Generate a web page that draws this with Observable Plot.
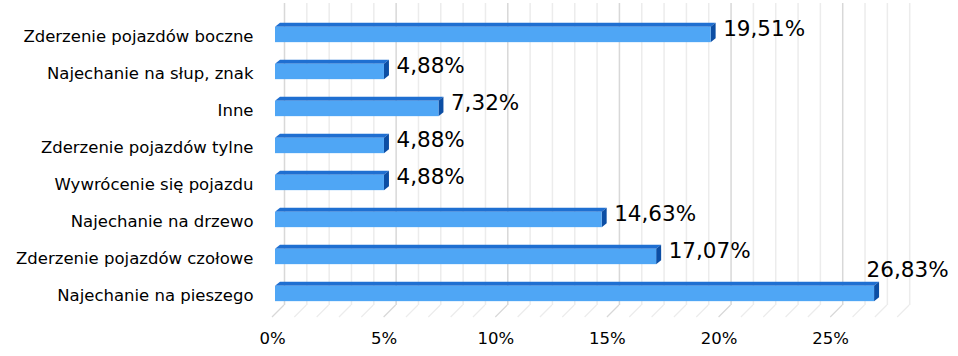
<!DOCTYPE html>
<html>
<head>
<meta charset="utf-8">
<script src="https://cdn.jsdelivr.net/npm/d3@7"></script>
<script src="https://cdn.jsdelivr.net/npm/@observablehq/plot@0.6"></script>
<style>
  html, body { margin: 0; padding: 0; background: #fff; }
  #chart svg { display: block; }
</style>
</head>
<body>
<div id="chart"></div>
<script>
// ---- data ----
const categories = [
  "Zderzenie pojazdów boczne",
  "Najechanie na słup, znak",
  "Inne",
  "Zderzenie pojazdów tylne",
  "Wywrócenie się pojazdu",
  "Najechanie na drzewo",
  "Zderzenie pojazdów czołowe",
  "Najechanie na pieszego"
];
const values = [19.51, 4.88, 7.32, 4.88, 4.88, 14.63, 17.07, 26.83];
const xTicks = [0, 5, 10, 15, 20, 25];
const gridValues = d3.range(0, 29); // 1% grid on the back wall
const xMax = 28;

const rows = categories.map((c, i) => ({cat: c, value: values[i]}));
const fmt = v => v.toFixed(2).replace(".", ",") + "%";
const lastCat = categories[categories.length - 1];

// 3D styling offsets (pixels)
const wall = {dx: 12, dy: -12};   // back wall relative to floor front edge
const bar = {dx: 3, dy: -2, depthX: 5, depthY: -4, inset: 10.85};

const colors = {
  front: "#4fa6f5",
  top: "#1f6fd1",
  side: "#0c4ea4",
  gridMajor: "#d8d8d8",
  gridMinor: "#ececec"
};

// custom mark: floor diagonals from the back wall to the front edge
function floorLines(index, scales, vals, dim) {
  const g = d3.create("svg:g");
  const yb = dim.height - dim.marginBottom;
  for (const t of gridValues) {
    const x = scales.x(t);
    g.append("line")
      .attr("x1", x + wall.dx).attr("y1", yb + wall.dy)
      .attr("x2", x).attr("y2", yb)
      .attr("stroke", t % 5 === 0 ? colors.gridMajor : colors.gridMinor)
      .attr("stroke-width", 1.2);
  }
  return g.node();
}

// custom mark: top and side faces of the 3D bars
function barFaces(index, scales, vals, dim) {
  const g = d3.create("svg:g");
  const step = scales.y(categories[1]) - scales.y(categories[0]);
  for (const r of rows) {
    const x0 = scales.x(0) + bar.dx;
    const x1 = scales.x(r.value) + bar.dx;
    const yT = scales.y(r.cat) + bar.inset + bar.dy;
    const yB = scales.y(r.cat) + step - bar.inset + bar.dy;
    const ddx = bar.depthX, ddy = bar.depthY;
    g.append("polygon")
      .attr("points", [[x0, yT], [x1, yT], [x1 + ddx, yT + ddy], [x0 + ddx, yT + ddy]].map(p => p.join(",")).join(" "))
      .attr("fill", colors.top);
    g.append("polygon")
      .attr("points", [[x1, yT], [x1 + ddx, yT + ddy], [x1 + ddx, yB + ddy], [x1, yB]].map(p => p.join(",")).join(" "))
      .attr("fill", colors.side);
  }
  return g.node();
}

const chart = Plot.plot({
  width: 958,
  height: 356,
  marginLeft: 272,
  marginRight: 60.8,
  marginTop: 15,
  marginBottom: 39,
  style: {fontFamily: "DejaVu Sans, Verdana, sans-serif", fontSize: "16.5px", color: "#000", background: "#fff"},
  x: {
    domain: [0, xMax],
    ticks: xTicks,
    tickFormat: d => d + "%",
    tickSize: 0,
    tickPadding: 15,
    label: null
  },
  y: {
    domain: categories,
    padding: 0,
    tickSize: 0,
    tickPadding: 19,
    label: null
  },
  marks: [
    Plot.ruleX(gridValues.filter(t => t % 5 !== 0), {x: d => d, dx: wall.dx, dy: wall.dy, stroke: colors.gridMinor, strokeWidth: 1.5}),
    Plot.ruleX(gridValues.filter(t => t % 5 === 0), {x: d => d, dx: wall.dx, dy: wall.dy, stroke: colors.gridMajor, strokeWidth: 1.5}),
    floorLines,
    barFaces,
    Plot.barX(rows, {
      x: "value", y: "cat", dx: bar.dx, dy: bar.dy,
      insetTop: bar.inset, insetBottom: bar.inset,
      fill: colors.front
    }),
    Plot.text(rows.filter(r => r.cat !== lastCat), {
      x: "value", y: "cat", text: r => fmt(r.value),
      textAnchor: "start", dx: 15, dy: -8,
      fontSize: 21.5, fill: "#000"
    }),
    Plot.text(rows.filter(r => r.cat === lastCat), {
      x: "value", y: "cat", text: r => fmt(r.value),
      textAnchor: "end", dx: 77, dy: -26,
      fontSize: 21.5, fill: "#000"
    })
  ]
});
document.getElementById("chart").appendChild(chart);
</script>
</body>
</html>
